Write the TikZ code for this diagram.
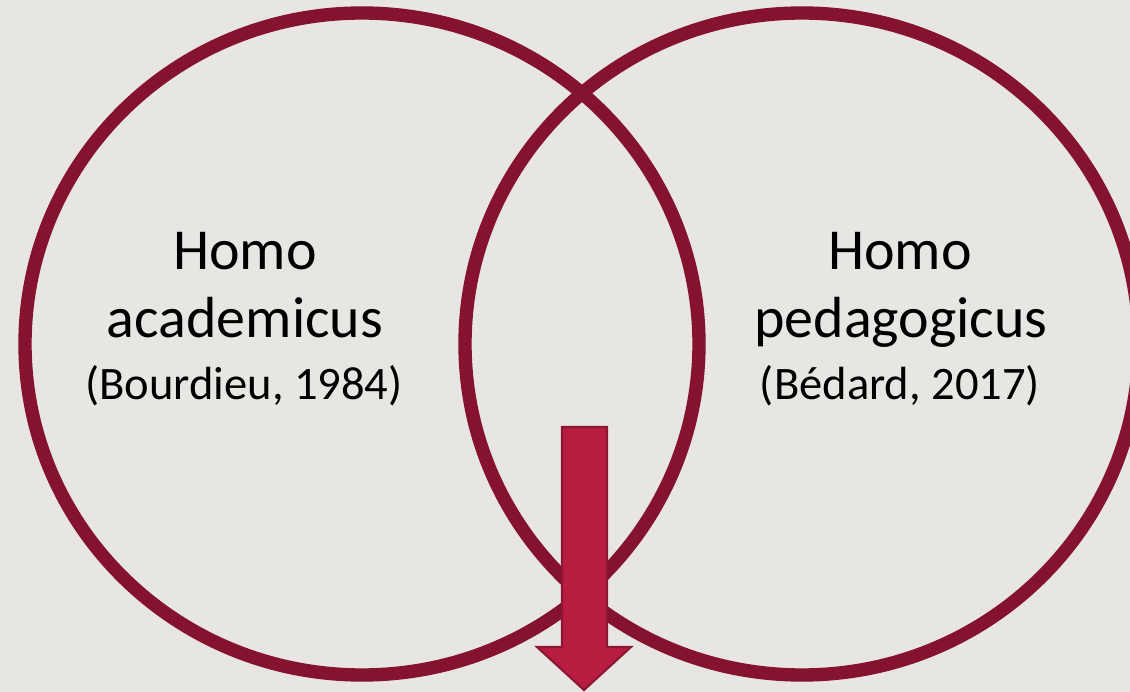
\documentclass[tikz,border=0pt]{standalone}
\usepackage{fontspec}
\setmainfont{Carlito}
\definecolor{ringred}{HTML}{85132F}
\definecolor{arrowred}{HTML}{B81C41}
\definecolor{arrowline}{HTML}{8C1733}
\definecolor{paper}{HTML}{E8E6E2}
\tikzset{
  ring/.style={draw=ringred, line width=7.6pt},
  bigtext/.style={anchor=base, font=\fontsize{33}{40}\selectfont},
  smalltext/.style={anchor=base, font=\fontsize{26.5}{32}\selectfont},
}
\begin{document}
\begin{tikzpicture}[x=0.02cm,y=-0.02cm]
        \fill[paper] (0,0) rectangle (1130,692);
        \useasboundingbox (0,0) rectangle (1130,692);

        % the two circles
        \draw[ring] (362,344) ellipse [x radius=337, y radius=331];
        \draw[ring] (802,344) ellipse [x radius=337, y radius=331];

        % left label
        \node[bigtext] (acadA) at (245,270) {Homo};
        \node[bigtext] (acadB) at (245,338) {academicus};
        \node[smalltext] (acadC) at (244,400) {(Bourdieu, 1984)};

        % right label
        \node[bigtext] (pedaA) at (900,270) {Homo};
        \node[bigtext] (pedaB) at (901,338) {pedagogicus};
        \node[smalltext] (pedaC) at (900,400) {(Bédard, 2017)};

        % arrow down from the overlap
        \filldraw[fill=arrowred, draw=arrowline, line width=1.2pt, line join=miter]
          (562,427) -- (607,427) -- (607,647) -- (631,647) -- (584,690)
          -- (537,647) -- (562,647) -- cycle;
      \end{tikzpicture}
\end{document}
